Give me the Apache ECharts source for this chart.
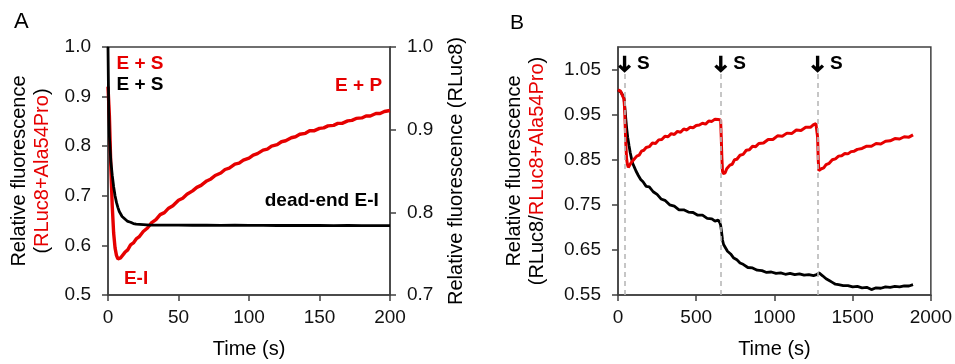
<!DOCTYPE html>
<html><head><meta charset="utf-8">
<script src="https://cdn.jsdelivr.net/npm/echarts@6/dist/echarts.min.js"></script>
<style>html,body{margin:0;padding:0;background:#fff}#c{width:955px;height:364px}</style>
</head><body><div id="c"></div>
<script>
// ---------- Panel A ----------
const timeRedA = [0,1,2,3,4,5,6,7,8,9,10,12,14,16,18,20,22,25,28,31,34,37,40,43,46,50,53,56,60,63,66,70,73,76,80,83,86,90,93,96,100,103,106,110,113,116,120,123,126,130,133,136,140,143,146,150,153,156,160,163,166,170,173,176,180,183,186,190,193,196,200];
const redA = [0.920,0.860,0.760,0.680,0.625,0.595,0.580,0.573,0.572,0.575,0.578,0.586,0.591,0.601,0.605,0.613,0.617,0.628,0.635,0.646,0.652,0.662,0.666,0.675,0.680,0.691,0.695,0.703,0.710,0.717,0.721,0.730,0.734,0.741,0.746,0.753,0.756,0.764,0.766,0.772,0.776,0.782,0.785,0.792,0.794,0.800,0.803,0.809,0.811,0.817,0.819,0.824,0.826,0.831,0.831,0.836,0.837,0.841,0.842,0.846,0.846,0.851,0.852,0.856,0.857,0.861,0.861,0.866,0.866,0.870,0.872];
const timeBlackA = [0,0.5,1,1.4,2,3,4,5,6,7,8,9,10,12,14,16,18,20,25,30,40,50,60,70,80,90,100,110,120,130,140,150,160,170,180,190,200];
const blackA = [1.0,0.922,0.892,0.879,0.862,0.845,0.831,0.820,0.812,0.806,0.801,0.798,0.795,0.792,0.789,0.788,0.7864,0.7858,0.7852,0.7846,0.7845,0.7846,0.7844,0.7845,0.7843,0.7844,0.7842,0.7843,0.7841,0.7842,0.7841,0.7841,0.7840,0.7841,0.7840,0.7840,0.7840];
const xTicksA = [0,200,50];        // min, max, step
const yLeftA = [0.5,1.0,0.1];
const yRightA = [0.7,1.0,0.1];

// ---------- Panel B ----------
const timeRedB = [0,8,16,24,32,38,42,46,50,55,60,66,72,78,85,92,100,110,120,135,150,165,180,200,220,240,260,280,300,320,340,360,380,400,420,440,460,480,500,520,540,560,580,600,620,640,650,656,660,664,668,672,678,685,695,705,715,730,745,760,780,800,820,840,860,880,900,930,960,990,1020,1050,1080,1110,1140,1170,1200,1230,1250,1265,1272,1276,1280,1284,1290,1300,1315,1330,1350,1370,1390,1410,1430,1450,1470,1490,1510,1530,1560,1590,1620,1650,1680,1710,1740,1770,1800,1830,1860,1886];
const redB = [1.005,1.001,1.002,0.996,0.993,0.985,0.965,0.925,0.885,0.852,0.840,0.833,0.837,0.836,0.844,0.843,0.850,0.851,0.858,0.860,0.869,0.871,0.877,0.879,0.887,0.886,0.894,0.895,0.902,0.901,0.908,0.906,0.913,0.911,0.918,0.916,0.922,0.921,0.926,0.927,0.931,0.929,0.936,0.935,0.940,0.939,0.943,0.938,0.900,0.855,0.825,0.819,0.822,0.821,0.830,0.830,0.838,0.840,0.850,0.851,0.860,0.862,0.871,0.872,0.880,0.879,0.886,0.887,0.895,0.895,0.903,0.902,0.909,0.908,0.916,0.915,0.922,0.922,0.928,0.930,0.929,0.900,0.850,0.826,0.826,0.830,0.832,0.839,0.842,0.850,0.852,0.858,0.859,0.864,0.863,0.868,0.869,0.873,0.875,0.880,0.880,0.886,0.885,0.891,0.892,0.897,0.896,0.901,0.900,0.905];
const timeBlackB = [0,10,20,30,38,44,50,56,62,70,78,86,95,105,115,130,145,160,180,200,225,250,275,300,330,360,390,420,450,480,510,540,570,600,620,640,650,656,662,668,675,685,700,720,740,760,780,800,830,860,890,920,950,980,1010,1040,1070,1100,1130,1160,1190,1220,1250,1270,1285,1295,1310,1330,1350,1370,1390,1410,1440,1470,1500,1530,1560,1590,1620,1650,1680,1710,1740,1770,1800,1830,1860,1886];
const blackB = [1.005,1.002,0.999,0.995,0.988,0.965,0.940,0.918,0.900,0.882,0.866,0.853,0.841,0.833,0.825,0.815,0.806,0.801,0.791,0.790,0.779,0.773,0.763,0.760,0.750,0.747,0.739,0.739,0.734,0.733,0.727,0.727,0.720,0.719,0.714,0.716,0.711,0.705,0.690,0.672,0.662,0.656,0.647,0.641,0.632,0.628,0.621,0.618,0.611,0.610,0.605,0.604,0.600,0.601,0.598,0.599,0.596,0.598,0.595,0.597,0.594,0.595,0.593,0.595,0.599,0.598,0.592,0.586,0.582,0.578,0.574,0.573,0.571,0.571,0.568,0.569,0.566,0.567,0.562,0.566,0.565,0.568,0.567,0.569,0.568,0.570,0.570,0.573];
const injectionTimes = [42,657,1276];
const xTicksB = [0,2000,500];
const yB = [0.55,1.10,0.1];

const RED = '#e60000';
const AX = '#404040';
const FONT = 'Liberation Sans, Arial, sans-serif';
const zip = (a,b) => a.map((t,i)=>[t,b[i]]);

const arrowPath = 'path://M4.4 0 L7.6 0 L7.6 11.2 L10 8.8 L12.2 11 L6 17 L-0.2 11 L2 8.8 L4.4 11.2 Z';

function xAxisDef(ticks, gridIndex){
  return {
    type:'value', gridIndex, min:ticks[0], max:ticks[1], interval:ticks[2],
    name:'Time (s)', nameLocation:'middle', nameGap:44,
    nameTextStyle:{fontSize:20, color:'#000', fontFamily:FONT},
    axisLine:{show:true, lineStyle:{color:AX, width:1.5}},
    axisTick:{show:true, length:6, lineStyle:{color:AX, width:1.5}},
    axisLabel:{fontSize:19, color:'#111', fontFamily:FONT, margin:13, formatter: v => String(v)},
    splitLine:{show:false}
  };
}
function yAxisDef(ticks, gridIndex, pos, dec){
  return {
    type:'value', gridIndex, position:pos, min:ticks[0], max:ticks[1], interval:ticks[2],
    axisLine:{show:true, onZero:false, lineStyle:{color:AX, width:1.5}},
    axisTick:{show:true, length:6, lineStyle:{color:AX, width:1.5}},
    axisLabel:{fontSize:19, color:'#111', fontFamily:FONT, margin:17, showMaxLabel: dec===1,
      formatter: v => v.toFixed(dec)},
    splitLine:{show:false},
    nameLocation:'middle', nameRotate:90
  };
}

const yA0 = yAxisDef(yLeftA, 0, 'left', 1);
yA0.name = 'Relative fluorescence\n{k|(}{r|RLuc8+Ala54Pro}{k|)}';
yA0.nameGap = 54;
yA0.nameTextStyle = {fontSize:20, color:'#000', fontFamily:FONT, lineHeight:23,
  rich:{k:{fontSize:20,color:'#000',fontFamily:FONT,lineHeight:23}, r:{fontSize:20,color:RED,fontFamily:FONT,lineHeight:23}}};
const yA1 = yAxisDef(yRightA, 0, 'right', 1);
yA1.name = 'Relative fluorescence (RLuc8)';
yA1.nameGap = 55;
yA1.nameTextStyle = {fontSize:20, color:'#000', fontFamily:FONT, lineHeight:23};
const yB0 = yAxisDef(yB, 1, 'left', 2);
yB0.name = 'Relative fluorescence\n{k|(RLuc8/}{r|RLuc8+Ala54Pro}{k|)}';
yB0.nameGap = 69;
yB0.nameTextStyle = {fontSize:20, color:'#000', fontFamily:FONT, lineHeight:23,
  rich:{k:{fontSize:20,color:'#000',fontFamily:FONT,lineHeight:23}, r:{fontSize:20,color:RED,fontFamily:FONT,lineHeight:23}}};

const lblA = (txt, t, v, color) => ({coord:[t,v], value:txt, symbol:'circle', symbolSize:0,
  label:{show:true, position:'inside', formatter:txt, color, fontSize:19, fontWeight:'bold', fontFamily:FONT}});

const option = {
  animation:false,
  backgroundColor:'#fff',
  grid:[
    {left:108, top:47, width:282, height:251, show:true, borderColor:AX, borderWidth:1.5, backgroundColor:'transparent'},
    {left:618, top:47, width:314, height:251, show:true, borderColor:AX, borderWidth:1.5, backgroundColor:'transparent'}
  ],
  xAxis:[xAxisDef(xTicksA,0), xAxisDef(xTicksB,1)],
  yAxis:[yA0, yA1, yB0],
  graphic:[
    {type:'text', left:14, top:11, style:{text:'A', fontSize:22, fill:'#000', fontFamily:FONT}},
    {type:'text', left:510, top:13, style:{text:'B', fontSize:21, fill:'#000', fontFamily:FONT}}
  ],
  series:[
    {type:'line', xAxisIndex:0, yAxisIndex:0, data:zip(timeRedA, redA), showSymbol:false, z:2,
      lineStyle:{color:RED, width:3.4}, itemStyle:{color:RED},
      markPoint:{silent:true, data:[
        lblA('E + S', 22.7, 0.967, RED),
        lblA('E + P', 177.7, 0.921, RED),
        lblA('E-I', 19.9, 0.532, RED)
      ]}},
    {type:'line', xAxisIndex:0, yAxisIndex:1, data:zip(timeBlackA, blackA), showSymbol:false, z:3,
      lineStyle:{color:'#000', width:2.8}, itemStyle:{color:'#000'},
      markPoint:{silent:true, data:[
        lblA('E + S', 22.7, 0.7+ (0.924-0.5)*0.6, '#000'),
        lblA('dead-end E-I', 151.6, 0.7 + (0.689-0.5)*0.6, '#000')
      ]}},
    {type:'line', xAxisIndex:1, yAxisIndex:2, data:[], showSymbol:false, z:1,
      markLine:{silent:true, symbol:['none','none'], label:{show:false},
        lineStyle:{color:'#b8b8b8', type:[5,4], width:1.6},
        data: injectionTimes.map(t => [{coord:[t,0.55]},{coord:[t,1.043]}])},
      markPoint:{silent:true, data: injectionTimes.map(t => ({coord:[t,1.062], symbol:arrowPath, symbolSize:[13,17],
        itemStyle:{color:'#000'},
        label:{show:true, position:'right', distance:6, formatter:'S', color:'#000', fontSize:19, fontWeight:'bold', fontFamily:FONT}}))}},
    {type:'line', xAxisIndex:1, yAxisIndex:2, data:zip(timeBlackB, blackB), showSymbol:false, z:2,
      lineStyle:{color:'#000', width:2.8}, itemStyle:{color:'#000'}},
    {type:'line', xAxisIndex:1, yAxisIndex:2, data:zip(timeRedB, redB), showSymbol:false, z:3,
      lineStyle:{color:RED, width:3}, itemStyle:{color:RED}}
  ]
};
const chart = echarts.init(document.getElementById('c'), null, {renderer:'canvas'});
chart.setOption(option);
</script>
</body></html>
